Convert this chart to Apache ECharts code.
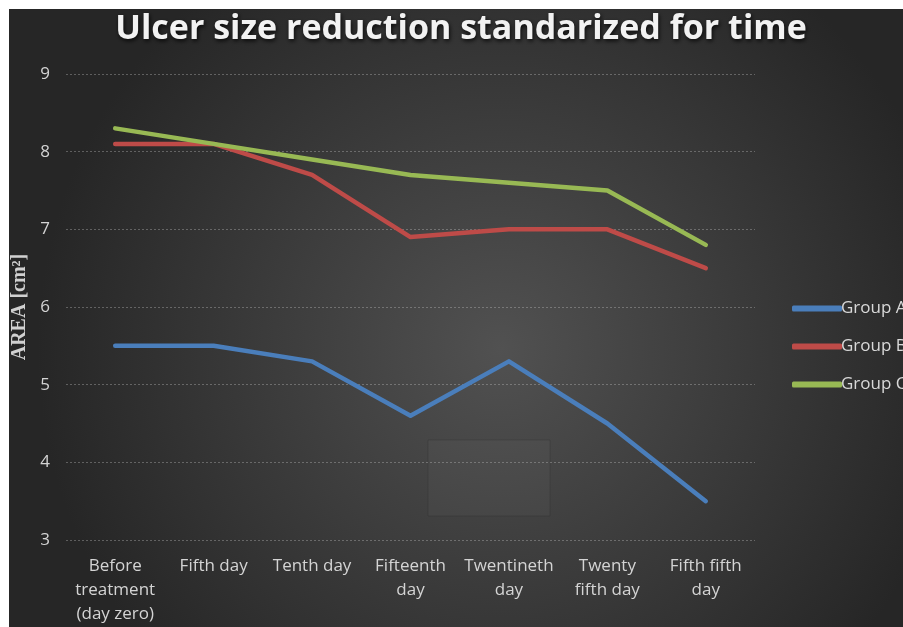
<!DOCTYPE html>
<html><head><meta charset="utf-8">
<script src="https://cdn.jsdelivr.net/npm/echarts@6/dist/echarts.min.js"></script>
<style>html,body{margin:0;padding:0;background:#fff;}#c{width:903px;height:627px;}</style>
</head><body><div id="c"></div>
<script>
const categories = ['Before\ntreatment\n(day zero)','Fifth day','Tenth day','Fifteenth\nday','Twentineth\nday','Twenty\nfifth day','Fifth fifth\nday'];
const groupA = [5.5, 5.5, 5.3, 4.6, 5.3, 4.5, 3.5];
const groupB = [8.1, 8.1, 7.7, 6.9, 7.0, 7.0, 6.5];
const groupC = [8.3, 8.1, 7.9, 7.7, 7.6, 7.5, 6.8];
const seriesNames = ['Group A','Group B','Group C'];
const colors = ['#4a7ebb','#be4b48','#98b954'];

const chart = echarts.init(document.getElementById('c'));
const mk = (name, data, color) => ({
  name, type:'line', data, symbol:'none', smooth:false,
  lineStyle:{width:4.5, color, cap:'round', join:'round'},
  itemStyle:{color}
});
chart.setOption({
  backgroundColor:'#ffffff',
  graphic:[
    {type:'rect', z:-10, silent:true, shape:{x:9,y:9,width:894,height:618},
     style:{fill:new echarts.graphic.RadialGradient(0.55,0.55,0.75,[
       {offset:0,color:'#515151'},{offset:1,color:'#262626'}])}},
    {type:'rect', z:-5, silent:true, shape:{x:428,y:440,width:122,height:76},
     style:{fill:'rgba(255,255,255,0.03)', stroke:'rgba(0,0,0,0.12)', lineWidth:1}}
  ],
  title:{text:'Ulcer size reduction standarized for time', left:456, top:7, textAlign:'center',
    textStyle:{color:'#f2f2f2', fontSize:34, fontWeight:'bold', fontFamily:'Open Sans',
      textShadowColor:'rgba(0,0,0,0.8)', textShadowBlur:4, textShadowOffsetX:1, textShadowOffsetY:2}},
  legend:{orient:'vertical', left:787, top:295, itemGap:21, itemWidth:50, itemHeight:6,
    icon:'roundRect', data:seriesNames,
    textStyle:{color:'#d9d9d9', fontSize:17, fontFamily:'Open Sans', padding:[0,0,0,-6]}},
  grid:{left:66, right:148, top:74, bottom:87, containLabel:false},
  xAxis:{type:'category', data:categories, boundaryGap:true,
    axisLine:{show:false}, axisTick:{show:false},
    axisLabel:{color:'#d4d4d4', fontSize:17, fontFamily:'Open Sans', margin:14, lineHeight:24, interval:0}},
  yAxis:{type:'value', min:3, max:9, interval:1,
    name:'AREA [cm²]', nameLocation:'middle', nameGap:30, nameRotate:90,
    nameTextStyle:{color:'#d0d0d0', fontSize:20, fontWeight:'bold', fontFamily:'Liberation Serif'},
    axisLine:{show:false}, axisTick:{show:false},
    axisLabel:{color:'#d4d4d4', fontSize:17, fontFamily:'Open Sans', margin:16},
    splitLine:{lineStyle:{color:'rgba(200,200,200,0.35)', type:[2,2], width:1}}},
  series:[mk(seriesNames[0],groupA,colors[0]), mk(seriesNames[1],groupB,colors[1]), mk(seriesNames[2],groupC,colors[2])]
});
</script></body></html>
